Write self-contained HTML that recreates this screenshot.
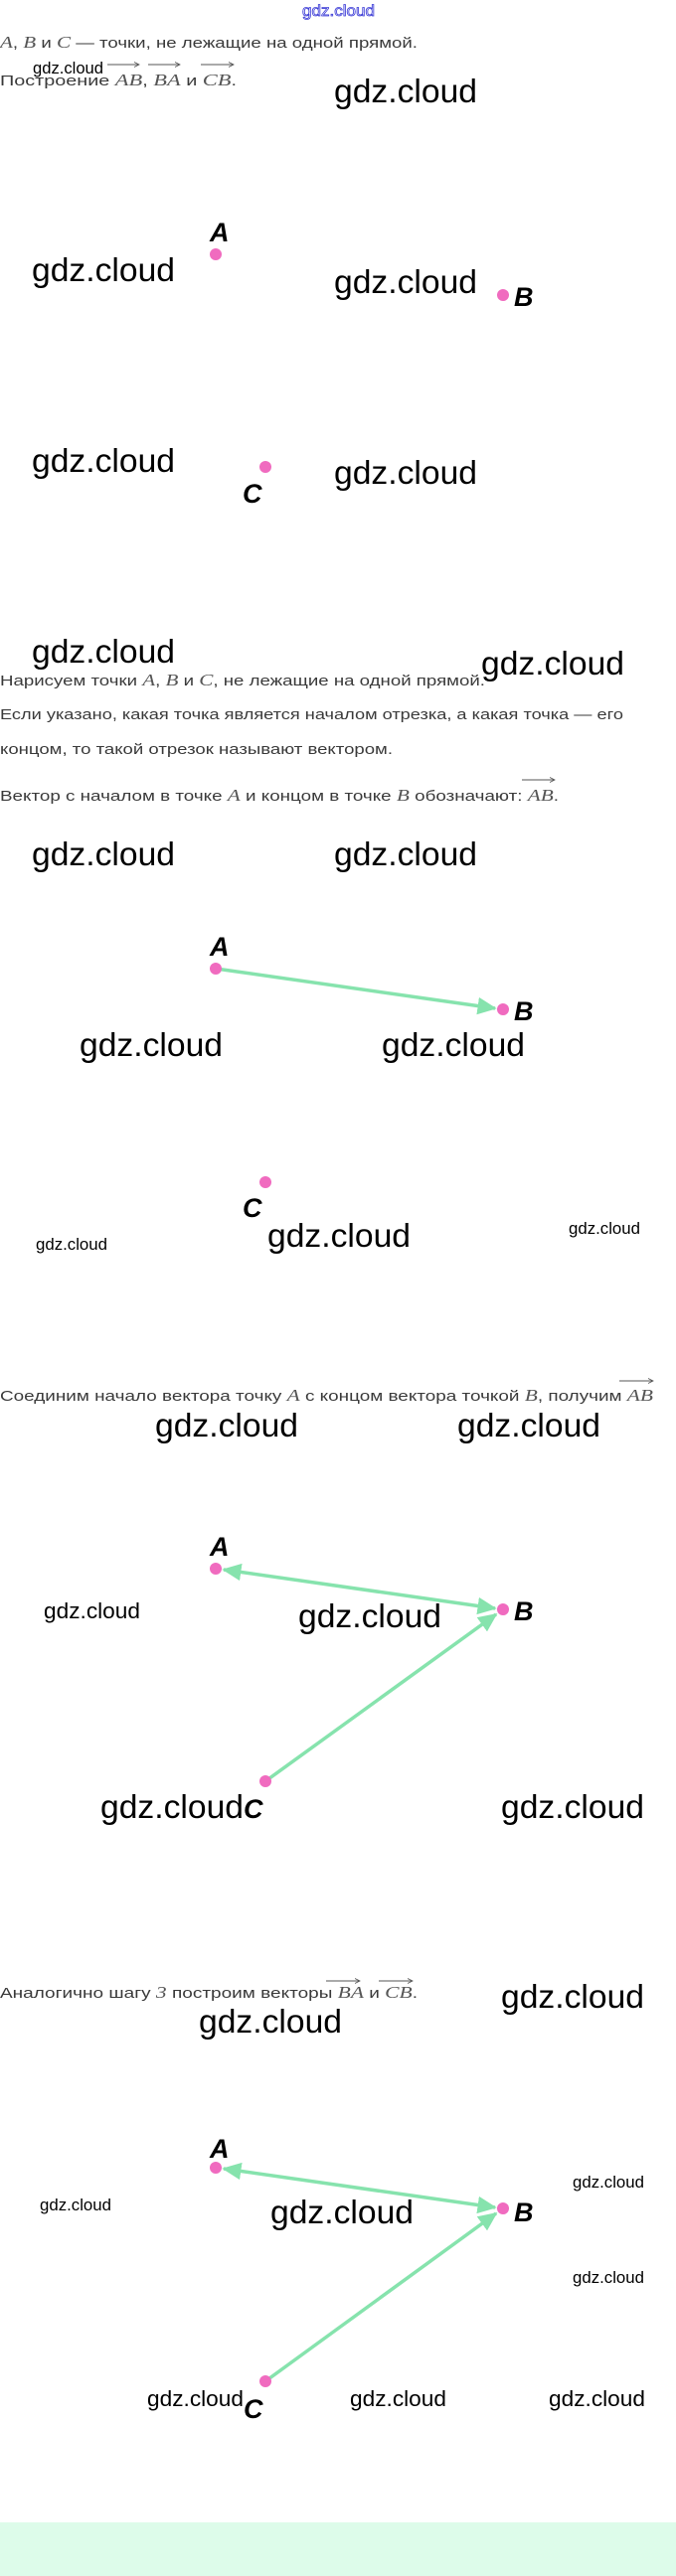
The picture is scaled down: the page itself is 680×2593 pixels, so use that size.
<!DOCTYPE html>
<html><head><meta charset="utf-8"><style>
html,body{margin:0;padding:0;background:#fff;}
svg{display:block;}
.t{font-family:"Liberation Sans",sans-serif;font-size:15px;fill:#3a3a3a;}
.m{font-family:"Liberation Serif",serif;font-style:italic;font-size:17px;fill:#555;}
.g{font-family:"Liberation Sans",sans-serif;fill:#000;}
.L{font-family:"Liberation Sans Narrow","Liberation Sans",sans-serif;font-weight:bold;font-style:italic;font-size:27px;fill:#000;}
</style></head><body>
<svg width="680" height="2593" viewBox="0 0 680 2593" xmlns="http://www.w3.org/2000/svg">
<defs>
<marker id="ah" markerWidth="6" markerHeight="6" refX="5" refY="3" orient="auto-start-reverse" markerUnits="strokeWidth">
<path d="M0,0.5 L5.5,3 L0,5.5 Z" fill="#86e3ad"/></marker>
<marker id="oa" markerWidth="6" markerHeight="6" refX="5" refY="3" orient="auto" markerUnits="strokeWidth">
<path d="M0,0.5 L5,3 L0,5.5" fill="none" stroke="#555" stroke-width="0.8"/></marker>
</defs>
<rect x="0" y="2539" width="680" height="54" fill="#ddfcea"/>

<text x="304" y="16" font-family="Liberation Sans,sans-serif" font-size="16" fill="#fff" stroke="#3b3bd6" stroke-width="0.8" textLength="73" lengthAdjust="spacingAndGlyphs">gdz.cloud</text>

<!-- Step 1 text -->
<text x="0" y="48" class="t" textLength="420" lengthAdjust="spacingAndGlyphs"><tspan class="m">A</tspan>, <tspan class="m">B</tspan> и <tspan class="m">C</tspan> — точки, не лежащие на одной прямой.</text>
<text x="0" y="86" class="t" textLength="238" lengthAdjust="spacingAndGlyphs">Построение <tspan class="m">AB</tspan>, <tspan class="m">BA</tspan> и <tspan class="m">CB</tspan>.</text>
<g stroke="#555" stroke-width="1" marker-end="url(#oa)">
<line x1="108" y1="65" x2="140" y2="65"/><line x1="149" y1="65" x2="181" y2="65"/><line x1="202" y1="65" x2="235" y2="65"/></g>
<text x="33" y="74" class="g" font-size="17" textLength="71" lengthAdjust="spacingAndGlyphs">gdz.cloud</text>

<g class="g" font-size="33">
<text x="336" y="103" textLength="144" lengthAdjust="spacingAndGlyphs">gdz.cloud</text>
<text x="32" y="283" textLength="144" lengthAdjust="spacingAndGlyphs">gdz.cloud</text>
<text x="336" y="295" textLength="144" lengthAdjust="spacingAndGlyphs">gdz.cloud</text>
<text x="32" y="475" textLength="144" lengthAdjust="spacingAndGlyphs">gdz.cloud</text>
<text x="336" y="487" textLength="144" lengthAdjust="spacingAndGlyphs">gdz.cloud</text>
<text x="32" y="667" textLength="144" lengthAdjust="spacingAndGlyphs">gdz.cloud</text>
<text x="484" y="679" textLength="144" lengthAdjust="spacingAndGlyphs">gdz.cloud</text>
</g>
<circle cx="217" cy="256" r="6" fill="#f06bbf"/><text x="211" y="243" class="L">A</text>
<circle cx="506" cy="297" r="6" fill="#f06bbf"/><text x="517" y="308" class="L">B</text>
<circle cx="267" cy="470" r="6" fill="#f06bbf"/><text x="244" y="506" class="L">C</text>

<!-- Step 2 -->
<text x="0" y="690" class="t" textLength="488" lengthAdjust="spacingAndGlyphs">Нарисуем точки <tspan class="m">A</tspan>, <tspan class="m">B</tspan> и <tspan class="m">C</tspan>, не лежащие на одной прямой.</text>
<text x="0" y="724" class="t" textLength="627" lengthAdjust="spacingAndGlyphs">Если указано, какая точка является началом отрезка, а какая точка — его</text>
<text x="0" y="759" class="t" textLength="395" lengthAdjust="spacingAndGlyphs">концом, то такой отрезок называют вектором.</text>
<text x="0" y="806" class="t" textLength="562" lengthAdjust="spacingAndGlyphs">Вектор с началом в точке <tspan class="m">A</tspan> и концом в точке <tspan class="m">B</tspan> обозначают: <tspan class="m">AB</tspan>.</text>
<line x1="525" y1="785" x2="558" y2="785" stroke="#555" stroke-width="1" marker-end="url(#oa)"/>
<g class="g" font-size="33">
<text x="32" y="871" textLength="144" lengthAdjust="spacingAndGlyphs">gdz.cloud</text>
<text x="336" y="871" textLength="144" lengthAdjust="spacingAndGlyphs">gdz.cloud</text>
</g>
<line x1="217" y1="975" x2="498" y2="1015" stroke="#86e3ad" stroke-width="3.5" marker-end="url(#ah)"/>
<circle cx="217" cy="975" r="6" fill="#f06bbf"/><text x="211" y="962" class="L">A</text>
<circle cx="506" cy="1016" r="6" fill="#f06bbf"/><text x="517" y="1027" class="L">B</text>
<g class="g" font-size="33">
<text x="80" y="1063" textLength="144" lengthAdjust="spacingAndGlyphs">gdz.cloud</text>
<text x="384" y="1063" textLength="144" lengthAdjust="spacingAndGlyphs">gdz.cloud</text>
<text x="269" y="1255" textLength="144" lengthAdjust="spacingAndGlyphs">gdz.cloud</text>
</g>
<circle cx="267" cy="1190" r="6" fill="#f06bbf"/><text x="244" y="1225" class="L">C</text>
<text x="36" y="1258" class="g" font-size="17" textLength="72" lengthAdjust="spacingAndGlyphs">gdz.cloud</text>
<text x="572" y="1242" class="g" font-size="17" textLength="72" lengthAdjust="spacingAndGlyphs">gdz.cloud</text>

<!-- Step 3 -->
<text x="0" y="1410" class="t" textLength="657" lengthAdjust="spacingAndGlyphs">Соединим начало вектора точку <tspan class="m">A</tspan> с концом вектора точкой <tspan class="m">B</tspan>, получим <tspan class="m">AB</tspan></text>
<line x1="623" y1="1390" x2="657" y2="1390" stroke="#555" stroke-width="1" marker-end="url(#oa)"/>
<g class="g" font-size="33">
<text x="156" y="1446" textLength="144" lengthAdjust="spacingAndGlyphs">gdz.cloud</text>
<text x="460" y="1446" textLength="144" lengthAdjust="spacingAndGlyphs">gdz.cloud</text>
<text x="300" y="1638" textLength="144" lengthAdjust="spacingAndGlyphs">gdz.cloud</text>
<text x="101" y="1830" textLength="144" lengthAdjust="spacingAndGlyphs">gdz.cloud</text>
<text x="504" y="1830" textLength="144" lengthAdjust="spacingAndGlyphs">gdz.cloud</text>
</g>
<text x="44" y="1629" class="g" font-size="22" textLength="97" lengthAdjust="spacingAndGlyphs">gdz.cloud</text>
<g stroke="#86e3ad" stroke-width="3.5">
<line x1="225" y1="1580" x2="498" y2="1619" marker-start="url(#ah)" marker-end="url(#ah)"/>
<line x1="267" y1="1793" x2="499" y2="1625" marker-end="url(#ah)"/>
</g>
<circle cx="217" cy="1579" r="6" fill="#f06bbf"/><text x="211" y="1566" class="L">A</text>
<circle cx="506" cy="1620" r="6" fill="#f06bbf"/><text x="517" y="1631" class="L">B</text>
<circle cx="267" cy="1793" r="6" fill="#f06bbf"/><text x="245" y="1830" class="L">C</text>

<!-- Step 4 -->
<text x="0" y="2011" class="t" textLength="420" lengthAdjust="spacingAndGlyphs">Аналогично шагу <tspan class="m" font-style="normal">3</tspan> построим векторы <tspan class="m">BA</tspan> и <tspan class="m">CB</tspan>.</text>
<g stroke="#555" stroke-width="1" marker-end="url(#oa)">
<line x1="328" y1="1994" x2="362" y2="1994"/><line x1="381" y1="1994" x2="415" y2="1994"/></g>
<g class="g" font-size="33">
<text x="504" y="2021" textLength="144" lengthAdjust="spacingAndGlyphs">gdz.cloud</text>
<text x="200" y="2046" textLength="144" lengthAdjust="spacingAndGlyphs">gdz.cloud</text>
<text x="272" y="2238" textLength="144" lengthAdjust="spacingAndGlyphs">gdz.cloud</text>
</g>
<g class="g" font-size="17">
<text x="576" y="2202" textLength="72" lengthAdjust="spacingAndGlyphs">gdz.cloud</text>
<text x="40" y="2225" textLength="72" lengthAdjust="spacingAndGlyphs">gdz.cloud</text>
<text x="576" y="2298" textLength="72" lengthAdjust="spacingAndGlyphs">gdz.cloud</text>
</g>
<g class="g" font-size="22">
<text x="148" y="2422" textLength="97" lengthAdjust="spacingAndGlyphs">gdz.cloud</text>
<text x="352" y="2422" textLength="97" lengthAdjust="spacingAndGlyphs">gdz.cloud</text>
<text x="552" y="2422" textLength="97" lengthAdjust="spacingAndGlyphs">gdz.cloud</text>
</g>
<g stroke="#86e3ad" stroke-width="3.5">
<line x1="225" y1="2183" x2="498" y2="2222" marker-start="url(#ah)" marker-end="url(#ah)"/>
<line x1="267" y1="2397" x2="499" y2="2228" marker-end="url(#ah)"/>
</g>
<circle cx="217" cy="2182" r="6" fill="#f06bbf"/><text x="211" y="2172" class="L">A</text>
<circle cx="506" cy="2223" r="6" fill="#f06bbf"/><text x="517" y="2236" class="L">B</text>
<circle cx="267" cy="2397" r="6" fill="#f06bbf"/><text x="245" y="2434" class="L">C</text>
</svg>
</body></html>
